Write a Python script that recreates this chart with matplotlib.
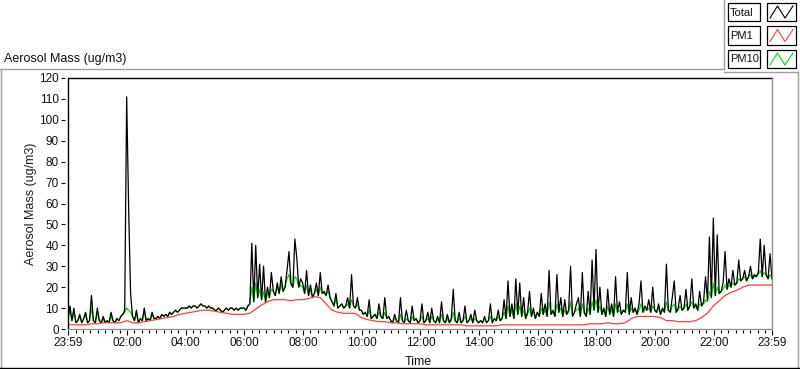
import numpy as np
import matplotlib.pyplot as plt
from matplotlib.lines import Line2D
from matplotlib.patches import Rectangle

plt.rcParams['font.family'] = ['Liberation Sans', 'DejaVu Sans']

# time in minutes after 23:59 (previous day), one row per hour
t_fast = np.arange(0, 1441, 4)
t_slow = np.arange(0, 1441, 12)

total = [
    5, 11, 4, 10, 3, 4, 7, 3, 5, 8, 3, 4, 16, 4, 3,
    10, 4, 3, 6, 3, 4, 3, 8, 4, 3, 5, 4, 6, 7, 9,
    111, 58, 17, 6, 4, 9, 3, 5, 4, 10, 4, 5, 4, 8, 5,
    5, 6, 5, 7, 6, 7, 6, 8, 7, 8, 9, 8, 9, 10, 10,
    10, 10, 11, 10, 11, 11, 10, 11, 12, 11, 11, 10, 11, 10, 10,
    9, 9, 10, 9, 8, 9, 10, 9, 10, 10, 9, 10, 9, 10, 10,
    10, 9, 11, 12, 41, 13, 40, 15, 31, 14, 30, 13, 20, 15, 27,
    18, 16, 22, 17, 25, 18, 20, 28, 37, 22, 20, 43, 34, 20, 24,
    22, 17, 28, 16, 21, 15, 17, 22, 16, 27, 17, 18, 16, 21, 15,
    13, 11, 17, 10, 11, 12, 10, 11, 15, 10, 26, 11, 10, 15, 9,
    9, 7, 8, 6, 14, 5, 6, 7, 5, 12, 6, 5, 15, 5, 6,
    4, 3, 7, 4, 3, 15, 4, 3, 9, 4, 3, 11, 4, 5, 3,
    4, 12, 3, 4, 8, 3, 10, 4, 3, 6, 3, 13, 4, 3, 7,
    3, 5, 19, 4, 3, 8, 3, 4, 11, 3, 4, 7, 3, 9, 4,
    3, 4, 3, 6, 3, 4, 12, 3, 5, 4, 9, 4, 5, 14, 5,
    23, 6, 12, 5, 24, 7, 22, 6, 15, 5, 8, 18, 6, 10, 5,
    8, 6, 17, 7, 12, 6, 28, 7, 9, 6, 26, 8, 15, 6, 14,
    7, 9, 30, 6, 8, 12, 15, 6, 27, 8, 6, 18, 7, 33, 9,
    38, 8, 20, 7, 10, 6, 19, 7, 12, 6, 25, 8, 13, 7, 9,
    8, 27, 7, 15, 8, 10, 7, 12, 23, 8, 11, 9, 14, 8, 20,
    9, 8, 12, 7, 10, 8, 31, 9, 8, 15, 23, 8, 10, 16, 9,
    10, 19, 9, 11, 24, 10, 12, 9, 18, 11, 13, 25, 14, 44, 15,
    53, 16, 45, 17, 18, 22, 37, 19, 24, 20, 28, 21, 22, 33, 23,
    24, 28, 23, 25, 30, 24, 26, 25, 27, 43, 25, 40, 26, 24, 36,
    24]

pm10 = [
    5, 9, 4, 8, 3, 4, 6, 3, 5, 7, 3, 4, 10, 4, 3,
    8, 4, 3, 5, 3, 4, 3, 6, 4, 3, 5, 4, 6, 7, 8,
    10, 9, 8, 6, 4, 7, 3, 5, 4, 8, 4, 5, 4, 7, 5,
    5, 6, 5, 7, 6, 7, 6, 8, 7, 8, 9, 8, 9, 10, 10,
    10, 10, 11, 10, 11, 11, 10, 11, 12, 11, 11, 10, 11, 10, 10,
    9, 9, 10, 9, 8, 9, 10, 9, 10, 10, 9, 10, 9, 10, 10,
    10, 9, 11, 12, 20, 13, 22, 15, 19, 14, 18, 13, 17, 15, 19,
    18, 16, 20, 17, 21, 18, 20, 24, 26, 21, 20, 25, 24, 20, 21,
    20, 17, 21, 16, 19, 15, 17, 19, 16, 20, 17, 17, 16, 18, 15,
    13, 11, 14, 10, 11, 12, 10, 11, 12, 10, 14, 11, 10, 12, 9,
    9, 7, 8, 6, 9, 5, 6, 7, 5, 8, 6, 5, 8, 5, 6,
    4, 3, 5, 4, 3, 7, 4, 3, 5, 4, 3, 6, 4, 5, 3,
    4, 6, 3, 4, 5, 3, 6, 4, 3, 5, 3, 7, 4, 3, 5,
    3, 4, 8, 4, 3, 5, 3, 4, 6, 3, 4, 5, 3, 5, 4,
    3, 4, 3, 5, 3, 4, 6, 3, 5, 4, 6, 4, 5, 8, 5,
    11, 6, 9, 5, 12, 7, 11, 6, 9, 5, 7, 10, 6, 8, 5,
    8, 6, 10, 7, 9, 6, 13, 7, 8, 6, 12, 8, 10, 6, 9,
    7, 8, 13, 6, 8, 9, 10, 6, 12, 8, 6, 10, 7, 13, 9,
    14, 8, 11, 7, 9, 6, 11, 7, 9, 6, 12, 8, 9, 7, 9,
    8, 12, 7, 10, 8, 9, 7, 9, 12, 8, 9, 9, 10, 8, 11,
    9, 8, 10, 7, 9, 8, 13, 9, 8, 11, 12, 8, 9, 11, 9,
    10, 12, 9, 11, 13, 10, 11, 9, 12, 11, 12, 14, 13, 18, 15,
    22, 16, 20, 17, 18, 19, 21, 19, 21, 20, 22, 21, 22, 24, 23,
    24, 25, 23, 25, 26, 24, 25, 25, 26, 28, 25, 27, 26, 24, 26,
    24]

pm1 = [
    2, 2, 2, 2, 2.5,
    2.5, 3, 3, 3, 3,
    4, 3, 3, 3.5, 4,
    4.5, 5, 5.5, 6, 7,
    7.5, 8, 8.5, 9, 9,
    8.5, 8, 7.5, 7, 7,
    7, 7.5, 9.5, 11.5, 13,
    14, 14, 14, 13.5, 14,
    14, 14.5, 15.5, 15, 12,
    9, 8, 7.5, 7.5, 7.5,
    5.5, 4.5, 4, 3.5, 3.5,
    3, 3, 2.5, 2.5, 2.5,
    2.5, 2, 2, 2, 2,
    2, 2, 2, 1.5, 1.5,
    1.5, 1.5, 1.5, 1.5, 2,
    2, 2, 2, 2, 2,
    2, 2, 2, 2, 2,
    2, 2, 2, 2, 2.5,
    2.5, 2.5, 3, 2.5, 2.5,
    3, 5, 6, 6, 6,
    6, 5.5, 4, 4, 3.5,
    3.5, 3.5, 4, 5.5, 7.5,
    11, 13.5, 16, 17.5, 18.5,
    20, 21, 21, 21, 21,
    21]

tick_pos = [0, 121, 241, 361, 481, 601, 721, 841, 961, 1081, 1201, 1321, 1440]
tick_labels = ['23:59', '02:00', '04:00', '06:00', '08:00', '10:00', '12:00',
               '14:00', '16:00', '18:00', '20:00', '22:00', '23:59']
minor_pos = [1 + 15 * k for k in range(1, 96) if (1 + 15 * k) not in tick_pos]

W, H = 800, 369
def fx(x):
    return x / W
def fy(y):
    return 1 - y / H

fig = plt.figure(figsize=(8, 3.69), dpi=100)
ax = fig.add_axes([fx(68), 40 / H, 704 / W, 251 / H])

ax.plot(t_fast, pm10, color='#00e000', lw=0.9)
ax.plot(t_fast, total, color='black', lw=0.9)
ax.plot(t_slow, pm1, color='#ff3b3b', lw=0.9)

ax.set_xlim(0, 1440)
ax.set_ylim(0, 120)
ax.set_yticks(range(0, 121, 10))
ax.set_xticks(tick_pos)
ax.set_xticklabels(tick_labels)
ax.set_xticks(minor_pos, minor=True)

# ticks sit a little away from the plot frame
ax.spines['left'].set_position(('outward', 2.2))
ax.spines['bottom'].set_position(('outward', 1.0))
for s in ax.spines.values():
    s.set_visible(False)
ax.tick_params(axis='y', direction='out', length=3, width=0.8, pad=1.5,
               labelsize=8.5, colors='#111111')
ax.tick_params(axis='x', which='major', direction='out', length=3.6, width=0.8,
               pad=1.5, labelsize=8.5, colors='#111111')
ax.tick_params(axis='x', which='minor', direction='out', length=2.2, width=0.8)

# sunken plot frame: black top/left, gray bottom/right
ax.add_line(Line2D([0, 0, 1], [0, 1, 1], transform=ax.transAxes, color='black',
                   lw=1.0, clip_on=False))
ax.add_line(Line2D([0, 1, 1], [0, 0, 1], transform=ax.transAxes, color='#909090',
                   lw=1.0, clip_on=False))

fig.text(fx(4), fy(59), 'Aerosol Mass (ug/m3)', fontsize=9, va='center', ha='left',
         color='#111111')
fig.text(fx(31), fy(203.5), 'Aerosol Mass (ug/m3)', fontsize=9, rotation=90,
         va='center', ha='center', color='#2a1a10')
fig.text(fx(418), fy(362), 'Time', fontsize=9, va='center', ha='center', color='#111111')

# outer panel border
gray = '#a0a0a0'
for xs, ys, c in [([0, 724], [69, 69], gray), ([724, 724], [0, 69], gray),
                  ([724, 798], [72, 72], gray), ([798, 798], [72, 369], gray),
                  ([1, 1], [69, 369], gray), ([0, 800], [368, 368], 'black')]:
    fig.add_artist(Line2D([fx(v) for v in xs], [fy(v) for v in ys], color=c, lw=1.0))

# legend
legend_names = ['Total', 'PM1', 'PM10']
legend_colors = ['black', '#ff3b3b', '#00e000']
for i, (name, c) in enumerate(zip(legend_names, legend_colors)):
    top = 3 + i * 23.5
    fig.add_artist(Rectangle((fx(728), fy(top + 18)), 32 / W, 18 / H,
                             transform=fig.transFigure, fill=False, ec='black', lw=0.9))
    fig.add_artist(Rectangle((fx(767), fy(top + 18)), 29 / W, 18 / H,
                             transform=fig.transFigure, fill=False, ec='black', lw=0.9))
    fig.text(fx(730), fy(top + 9.5), name, fontsize=8, va='center', ha='left',
             color='#111111')
    zx = [770, 777.5, 785, 793]
    zy = [top + 15, top + 3, top + 15, top + 3]
    fig.add_artist(Line2D([fx(v) for v in zx], [fy(v) for v in zy], color=c, lw=0.8))

fig.savefig('out.png', dpi=100)
